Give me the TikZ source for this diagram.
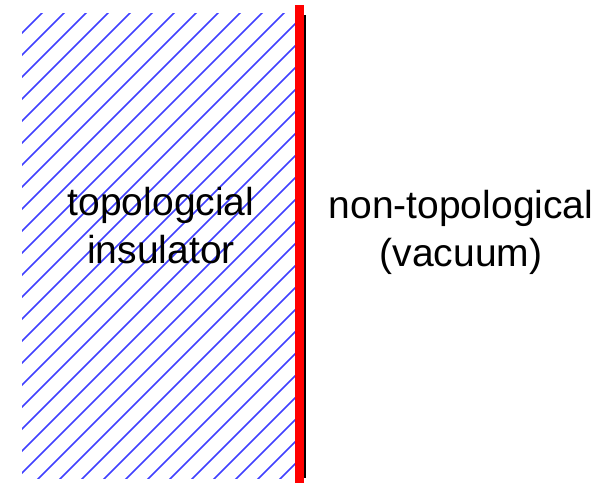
\documentclass[tikz,border=0pt]{standalone}
\usepackage{fontspec}
\setmainfont{Liberation Sans}
\usetikzlibrary{positioning}

\begin{document}
\begin{tikzpicture}[
  x=1pt, y=1pt,
  hatch/.style={blue!75, line width=1.5pt},
  wall/.style={fill=red, draw=none},
  lbl/.style={align=center, font=\fontsize{39}{48}\selectfont, inner sep=0pt}
]
\useasboundingbox (0,0) rectangle (614,483);
% hatched insulator region
\begin{scope}
  \clip (22,5) rectangle (295,469);
  \foreach \c in {-472,-450,...,300}
    \draw[hatch] (\c,0) -- ++(500,500);
\end{scope}
% boundary
\fill[wall] (295,0) rectangle (303.5,478);
\fill[black] (303.5,5) rectangle (305.5,468);
% labels
\node[lbl] (tilbl) at (161,257) {topologcial\\insulator};
\node[lbl] (vac) at (461,251) {non-topological\\(vacuum)};
\end{tikzpicture}
\end{document}
